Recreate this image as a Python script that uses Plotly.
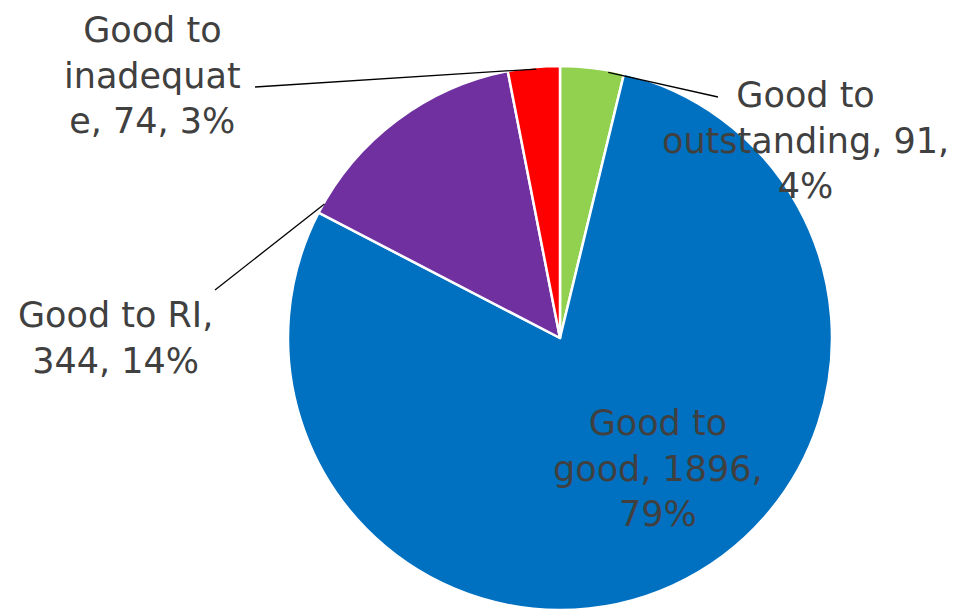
import math
import plotly.graph_objects as go

labels = ["Good to outstanding", "Good to good", "Good to RI", "Good to inadequate"]
values = [91, 1896, 344, 74]
colors = ["#92D050", "#0070C0", "#7030A0", "#FF0000"]
label_text = [
    "Good to<br>outstanding, 91,<br>4%",
    "Good to<br>good, 1896,<br>79%",
    "Good to RI,<br>344, 14%",
    "Good to<br>inadequat<br>e, 74, 3%",
]

W, H = 955, 610
cx, cy, R = 560, 340, 272  # pie centre / radius in pixels

fig = go.Figure(go.Pie(
    labels=labels, values=values, sort=False, direction="clockwise", rotation=0,
    marker=dict(colors=colors, line=dict(color="white", width=2.5)),
    textinfo="none", hoverinfo="label+value+percent", showlegend=False,
    domain=dict(x=[(cx - R) / W, (cx + R) / W], y=[0, 2 * R / H]),
))

total = sum(values)
cum = [sum(values[:i]) / total for i in range(len(values))]
fracs = [v / total for v in values]


def edge_point(i, pos):
    ang = 2 * math.pi * (cum[i] + fracs[i] * pos)
    px = cx + R * math.sin(ang)
    py = cy - R * math.cos(ang)
    return px / W, 1 - py / H


font = dict(family="DejaVu Sans, sans-serif", size=35, color="#404040")
# label placements (pixels)
label_pos = [(805, 140), (658, 468), (115, 338), (152, 75)]
for i, (lx, ly) in enumerate(label_pos):
    fig.add_annotation(x=lx / W, y=1 - ly / H, xref="paper", yref="paper",
                       text=label_text[i], showarrow=False, font=font,
                       align="center", xanchor="center", yanchor="middle")

# leader lines: (slice index, position within slice, label-side endpoint px)
leaders = [(0, 0.75, (718, 97)), (2, 0.05, (215, 290)), (3, 0.55, (255, 87))]
for i, pos, (lx, ly) in leaders:
    x0, y0 = edge_point(i, pos)
    fig.add_shape(type="line", xref="paper", yref="paper",
                  x0=x0, y0=y0, x1=lx / W, y1=1 - ly / H,
                  line=dict(color="black", width=1.3))

fig.update_layout(width=W, height=H, margin=dict(l=0, r=0, t=0, b=0),
                  paper_bgcolor="white", plot_bgcolor="white")
fig.write_html("out.html", config={"displayModeBar": False},
               post_script="document.body.style.margin='0';document.body.style.overflow='hidden';")
